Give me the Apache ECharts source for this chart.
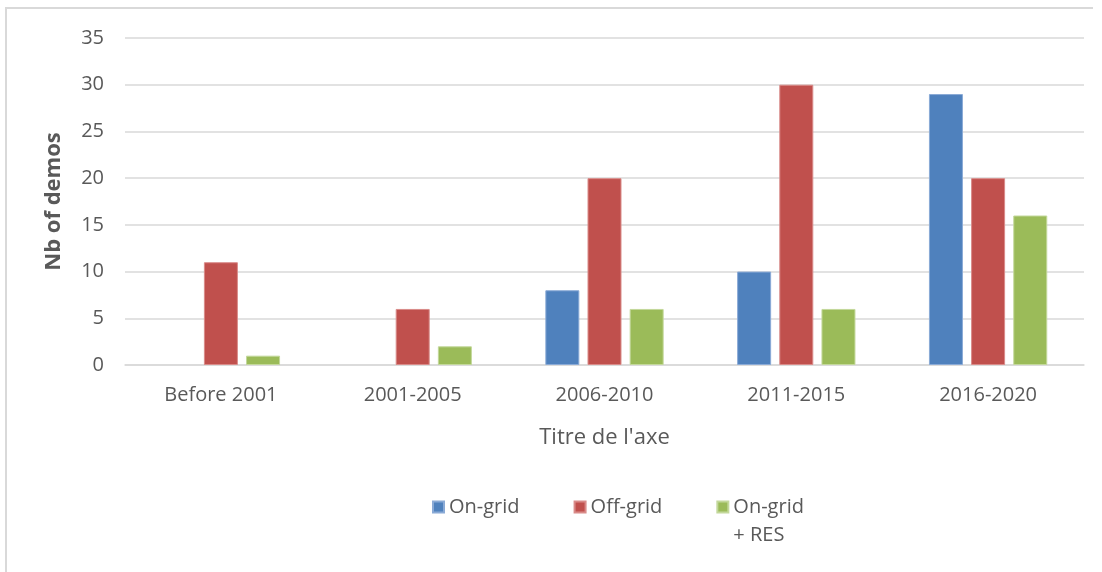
<!DOCTYPE html>
<html>
<head>
<meta charset="utf-8">
<script src="https://cdn.jsdelivr.net/npm/echarts@6/dist/echarts.min.js"></script>
<style>
html,body{margin:0;padding:0;background:#fff;}
#chart{width:1102px;height:572px;}
</style>
</head>
<body>
<div id="chart"></div>
<script>
const categories = ["Before 2001", "2001-2005", "2006-2010", "2011-2015", "2016-2020"];
const seriesNames = ["On-grid", "Off-grid", "On-grid + RES"];
const onGrid = [0, 0, 8, 10, 29];
const offGrid = [11, 6, 20, 30, 20];
const onGridRes = [1, 2, 6, 6, 16];
const yTicks = [0, 5, 10, 15, 20, 25, 30, 35];
const yAxisTitle = "Nb of demos";
const xAxisTitle = "Titre de l'axe";

const colors = ["#4f81bd", "#c0504d", "#9bbb59"];
const borders = ["#8aaad6", "#d98b89", "#c3d89b"];
const font = "'Open Sans', 'Liberation Sans', sans-serif";
const textColor = "#595959";

const chart = echarts.init(document.getElementById('chart'), null, {renderer: 'canvas'});
const values = [onGrid, offGrid, onGridRes];
chart.setOption({
  animation: false,
  backgroundColor: '#fff',
  textStyle: {fontFamily: font},
  grid: {left: 125, right: 18, top: 38, bottom: 207, containLabel: false},
  graphic: [
    {type: 'line', shape: {x1: 6, y1: 8, x2: 6, y2: 572}, style: {stroke: '#d9d9d9', lineWidth: 2}},
    {type: 'line', shape: {x1: 5, y1: 8, x2: 1093, y2: 8}, style: {stroke: '#d9d9d9', lineWidth: 2}}
  ],
  legend: {
    left: 432, top: 465, padding: 0,
    itemWidth: 11, itemHeight: 11, itemGap: 54,
    icon: 'rect',
    data: seriesNames,
    formatter: n => n === "On-grid + RES" ? "\nOn-grid\n+ RES" : n,
    textStyle: {fontFamily: font, fontSize: 20, color: textColor, lineHeight: 28}
  },
  xAxis: {
    type: 'category',
    data: categories,
    name: xAxisTitle,
    nameLocation: 'middle',
    nameGap: 62,
    nameTextStyle: {fontFamily: font, fontSize: 22, color: textColor},
    axisLine: {lineStyle: {color: '#d9d9d9', width: 1.5}},
    axisTick: {show: false},
    axisLabel: {fontFamily: font, fontSize: 20, color: textColor, margin: 20}
  },
  yAxis: {
    type: 'value',
    min: yTicks[0], max: yTicks[yTicks.length - 1], interval: 5,
    name: yAxisTitle,
    nameLocation: 'middle',
    nameGap: 60,
    nameTextStyle: {fontFamily: font, fontSize: 22, color: textColor, fontWeight: 'bold'},
    axisLine: {show: false},
    axisTick: {show: false},
    splitLine: {lineStyle: {color: '#d9d9d9', width: 1.5}},
    axisLabel: {fontFamily: font, fontSize: 20, color: textColor, margin: 21}
  },
  series: seriesNames.map((n, i) => ({
    name: n,
    type: 'bar',
    data: values[i].map(v => ({value: v, itemStyle: {borderWidth: v === 0 ? 0 : 1}})),
    barWidth: 34,
    barGap: '24%',
    itemStyle: {color: colors[i], borderColor: borders[i], borderWidth: 1}
  }))
});
</script>
</body>
</html>
